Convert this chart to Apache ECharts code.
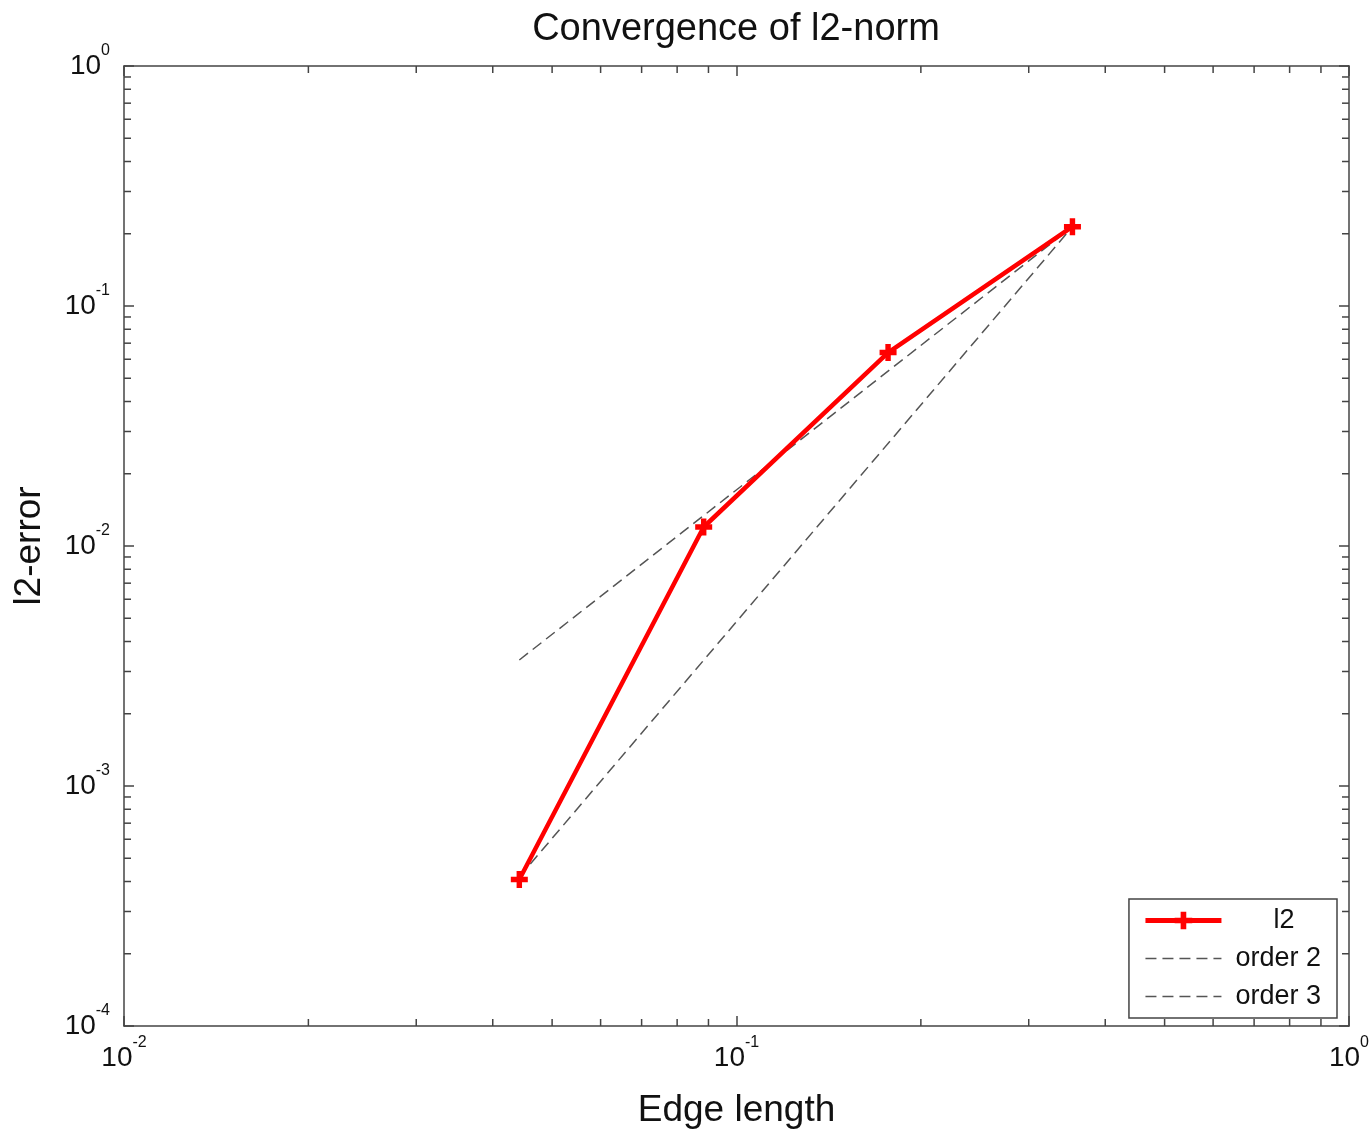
<!DOCTYPE html>
<html>
<head>
<meta charset="utf-8">
<title>Convergence of l2-norm</title>
<script src="https://cdn.jsdelivr.net/npm/echarts@6/dist/echarts.min.js"></script>
<style>
  html, body { margin: 0; padding: 0; background: #fff; }
  #chart { width: 1372px; height: 1134px; }
</style>
</head>
<body>
<div id="chart"></div>
<script>
// values
var edgeLength = [0.0442, 0.0884, 0.1768, 0.3536];
var l2Error = [4.08e-4, 1.20e-2, 6.40e-2, 2.14e-1];
var order2X = [0.0442, 0.3536];
var order2Y = [3.35e-3, 2.14e-1];
var order3X = [0.0442, 0.3536];
var order3Y = [4.18e-4, 2.14e-1];

var font = 'Liberation Sans, Arial, sans-serif';
var axisColor = '#444';
var plusPath = 'path://M3.4,0 H6.6 V3.4 H10 V6.6 H6.6 V10 H3.4 V6.6 H0 V3.4 H3.4 Z';

function pairs(xs, ys) {
    return xs.map(function (x, i) { return [x, ys[i]]; });
}

function powLabel(v) {
    var e = Math.round(Math.log10(v));
    return '{b|10}{s|' + e + '}';
}

var labelRich = {
    b: { fontSize: 28, fontFamily: font, color: '#111', lineHeight: 46, verticalAlign: 'middle' },
    s: { fontSize: 16, fontFamily: font, color: '#111', lineHeight: 16, verticalAlign: 'top' }
};

function logAxis(pos, min, max, showLabel) {
    return {
        type: 'log',
        logBase: 10,
        position: pos,
        min: min,
        max: max,
        axisLine: { show: true, onZero: false, lineStyle: { color: axisColor, width: 1.5 } },
        axisTick: { show: true, inside: true, length: 10, lineStyle: { color: axisColor, width: 1.5 } },
        splitLine: { show: false },
        axisLabel: showLabel ? {
            show: true,
            formatter: powLabel,
            rich: labelRich,
            margin: pos === 'bottom' ? 9 : 14
        } : { show: false }
    };
}

var xBottom = logAxis('bottom', 0.01, 1, true);
xBottom.name = 'Edge length';
xBottom.nameLocation = 'middle';
xBottom.nameGap = 66;
xBottom.nameTextStyle = { fontSize: 37, fontFamily: font, color: '#111' };

var yLeft = logAxis('left', 1e-4, 1, true);
yLeft.name = 'l2-error';
yLeft.nameLocation = 'middle';
yLeft.nameGap = 76;
yLeft.nameTextStyle = { fontSize: 37, fontFamily: font, color: '#111' };

var legendRich = {
    t: { fontSize: 27, fontFamily: font, color: '#111', padding: [0, 0, 0, 9] },
    p: { fontSize: 27, fontFamily: font, color: '#111', padding: [0, 0, 0, 47] }
};

var myChart = echarts.init(document.getElementById('chart'), null, { renderer: 'canvas' });

var option = {
    backgroundColor: '#fff',
    animation: false,
    title: {
        text: 'Convergence of l2-norm',
        left: 731,
        textAlign: 'center',
        top: 6,
        textStyle: { fontSize: 38, fontWeight: 'normal', fontFamily: font, color: '#111' }
    },
    grid: { left: 124, right: 22, top: 66, bottom: 105 },
    xAxis: [xBottom, logAxis('top', 0.01, 1, false)],
    yAxis: [yLeft, logAxis('right', 1e-4, 1, false)],
    legend: {
        orient: 'vertical',
        right: 35,
        bottom: 116,
        padding: [8, 16, 8, 14],
        borderColor: '#444',
        borderWidth: 1.5,
        backgroundColor: '#fff',
        itemWidth: 76,
        itemHeight: 22,
        itemGap: 11,
        data: [
            { name: 'l2', lineStyle: { width: 5 } },
            { name: 'order 2', itemStyle: { opacity: 0 }, lineStyle: { width: 1.5 } },
            { name: 'order 3', itemStyle: { opacity: 0 }, lineStyle: { width: 1.5 } }
        ],
        formatter: function (name) {
            return name === 'l2' ? '{p|l2}' : '{t|' + name + '}';
        },
        textStyle: { fontSize: 27, fontFamily: font, color: '#111', rich: legendRich }
    },
    series: [
        {
            name: 'order 2',
            type: 'line',
            data: pairs(order2X, order2Y),
            showSymbol: false,
            lineStyle: { color: '#555', width: 1.5, type: [11, 6] },
            itemStyle: { color: '#555' },
            z: 2
        },
        {
            name: 'order 3',
            type: 'line',
            data: pairs(order3X, order3Y),
            showSymbol: false,
            lineStyle: { color: '#555', width: 1.5, type: [11, 6] },
            itemStyle: { color: '#555' },
            z: 2
        },
        {
            name: 'l2',
            type: 'line',
            data: pairs(edgeLength, l2Error),
            symbol: plusPath,
            symbolSize: 17,
            lineStyle: { color: '#ff0000', width: 4.5 },
            itemStyle: { color: '#ff0000' },
            z: 3
        }
    ]
};
myChart.setOption(option);

// minor ticks (2..9 in each decade) placed through the axis scales
function minorTicks() {
    var els = [];
    var minorLen = 7;
    var tl = myChart.convertToPixel({ xAxisIndex: 0, yAxisIndex: 0 }, [0.01, 1]);
    var br = myChart.convertToPixel({ xAxisIndex: 0, yAxisIndex: 0 }, [1, 1e-4]);
    var style = { stroke: axisColor, lineWidth: 1.5 };
    [0.01, 0.1].forEach(function (dec) {
        for (var k = 2; k <= 9; k++) {
            var px = myChart.convertToPixel({ xAxisIndex: 0 }, dec * k);
            els.push({ type: 'line', silent: true, shape: { x1: px, y1: br[1], x2: px, y2: br[1] - minorLen }, style: style });
            els.push({ type: 'line', silent: true, shape: { x1: px, y1: tl[1], x2: px, y2: tl[1] + minorLen }, style: style });
        }
    });
    [1e-4, 1e-3, 1e-2, 1e-1].forEach(function (dec) {
        for (var k = 2; k <= 9; k++) {
            var py = myChart.convertToPixel({ yAxisIndex: 0 }, dec * k);
            els.push({ type: 'line', silent: true, shape: { x1: tl[0], y1: py, x2: tl[0] + minorLen, y2: py }, style: style });
            els.push({ type: 'line', silent: true, shape: { x1: br[0], y1: py, x2: br[0] - minorLen, y2: py }, style: style });
        }
    });
    myChart.setOption({ graphic: els });
}
minorTicks();

window.onresize = function () {
    myChart.resize();
    minorTicks();
};
</script>
</body>
</html>
